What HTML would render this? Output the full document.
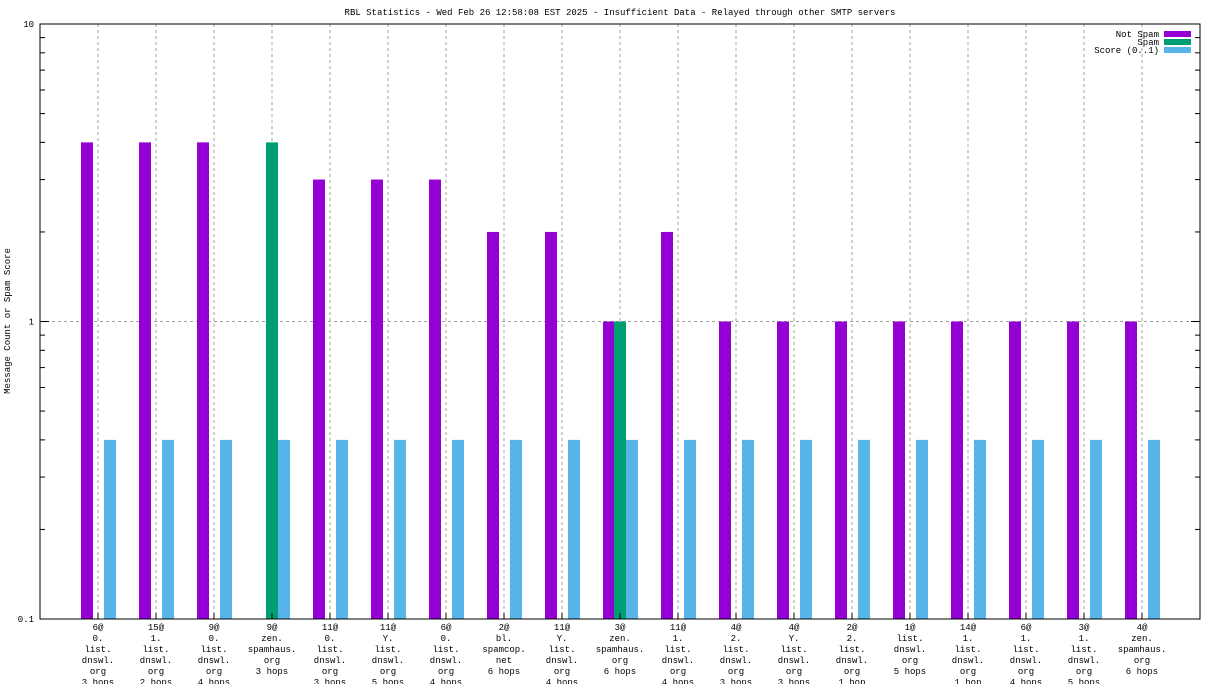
<!DOCTYPE html>
<html><head><meta charset="utf-8"><style>
body{margin:0;background:#fff}
svg text{font-family:"Liberation Mono","DejaVu Sans Mono",monospace;font-size:9px;fill:#000}
</style></head><body>
<svg id="chart" width="1216" height="684" xmlns="http://www.w3.org/2000/svg">
<rect width="1216" height="684" fill="#fff"/>
<text x="620" y="15" text-anchor="middle">RBL Statistics - Wed Feb 26 12:58:08 EST 2025 - Insufficient Data - Relayed through other SMTP servers</text>
<text transform="translate(10,321) rotate(-90)" text-anchor="middle">Message Count or Spam Score</text>
<g id="grid"></g><g id="bars"></g><g id="axes"></g>
<g>
<text x="1159" y="37" text-anchor="end">Not Spam</text>
<rect x="1164" y="31" width="27" height="6" fill="#9400d3"/>
<text x="1159" y="45" text-anchor="end">Spam</text>
<rect x="1164" y="39" width="27" height="6" fill="#009e73"/>
<text x="1159" y="53" text-anchor="end">Score (0..1)</text>
<rect x="1164" y="47" width="27" height="6" fill="#56b4e9"/>
</g>
</svg>
<script>
const categories=[
["6@","0.","list.","dnswl.","org","3 hops"],["15@","1.","list.","dnswl.","org","2 hops"],["9@","0.","list.","dnswl.","org","4 hops"],
["9@","zen.","spamhaus.","org","3 hops"],["11@","0.","list.","dnswl.","org","3 hops"],["11@","Y.","list.","dnswl.","org","5 hops"],
["6@","0.","list.","dnswl.","org","4 hops"],["2@","bl.","spamcop.","net","6 hops"],["11@","Y.","list.","dnswl.","org","4 hops"],
["3@","zen.","spamhaus.","org","6 hops"],["11@","1.","list.","dnswl.","org","4 hops"],["4@","2.","list.","dnswl.","org","3 hops"],
["4@","Y.","list.","dnswl.","org","3 hops"],["2@","2.","list.","dnswl.","org","1 hop"],["1@","list.","dnswl.","org","5 hops"],
["14@","1.","list.","dnswl.","org","1 hop"],["6@","1.","list.","dnswl.","org","4 hops"],["3@","1.","list.","dnswl.","org","5 hops"],
["4@","zen.","spamhaus.","org","6 hops"]];
const notSpam=[4,4,4,0,3,3,3,2,2,1,2,1,1,1,1,1,1,1,1];
const spam=[0,0,0,4,0,0,0,0,0,1,0,0,0,0,0,0,0,0,0];
const score=[0.4,0.4,0.4,0.4,0.4,0.4,0.4,0.4,0.4,0.4,0.4,0.4,0.4,0.4,0.4,0.4,0.4,0.4,0.4];
const yTicks=[0.1,1,10];
const yTickLabels=["0.1","1","10"];
const L=40,R=1200,T=24,B=619;
const NS="http://www.w3.org/2000/svg";
function y(v){return B-(Math.log10(v)+1)/2*(B-T);}
function xc(i){return 98+i*58;}
function mk(tag,attrs,parent){const e=document.createElementNS(NS,tag);for(const k in attrs)e.setAttribute(k,attrs[k]);parent.appendChild(e);return e;}
const grid=document.getElementById('grid'),bars=document.getElementById('bars'),axes=document.getElementById('axes');
categories.forEach((c,i)=>{
 const g=mk('line',{x1:xc(i),x2:xc(i),y1:T,y2:B,stroke:'#a0a0a0','stroke-dasharray':'3,3'},grid);
 
 
 const t=mk('line',{x1:xc(i),x2:xc(i),y1:B,y2:B-6,stroke:'#000'},axes);
 c.forEach((s,j)=>{const tx=mk('text',{x:xc(i),y:630+j*11,'text-anchor':'middle'},axes);tx.textContent=s;
 
 });
 const ser=[[notSpam[i],-17,'#9400d3','bar-not-spam'],[spam[i],-6,'#009e73','bar-spam'],[score[i],6,'#56b4e9','bar-score']];
 ser.forEach(([v,o,col,nm])=>{if(v>0.1){const r=mk('rect',{x:xc(i)+o,y:y(v),width:12,height:B-y(v),fill:col},bars);
 
 }});
});
yTicks.forEach((v,k)=>{
 if(v>0.1&&v<10){const gl=mk('line',{x1:L,x2:R,y1:y(v),y2:y(v),stroke:'#a0a0a0','stroke-dasharray':'3,3'},grid);
 
 }
 const t=mk('text',{x:34,y:y(v)+3,'text-anchor':'end'},axes);t.textContent=yTickLabels[k];
 
 
 mk('line',{x1:L,x2:L+9,y1:y(v),y2:y(v),stroke:'#000'},axes);
 mk('line',{x1:R,x2:R-9,y1:y(v),y2:y(v),stroke:'#000'},axes);
});
[0.1,1].forEach(d=>{for(let m=2;m<=9;m++){const v=d*m;mk('line',{x1:L,x2:L+5,y1:y(v),y2:y(v),stroke:'#000'},axes);mk('line',{x1:R,x2:R-5,y1:y(v),y2:y(v),stroke:'#000'},axes);}});
const fr=mk('rect',{x:L,y:T,width:R-L,height:B-T,fill:'none',stroke:'#000'},axes);


</script>
</body></html>
